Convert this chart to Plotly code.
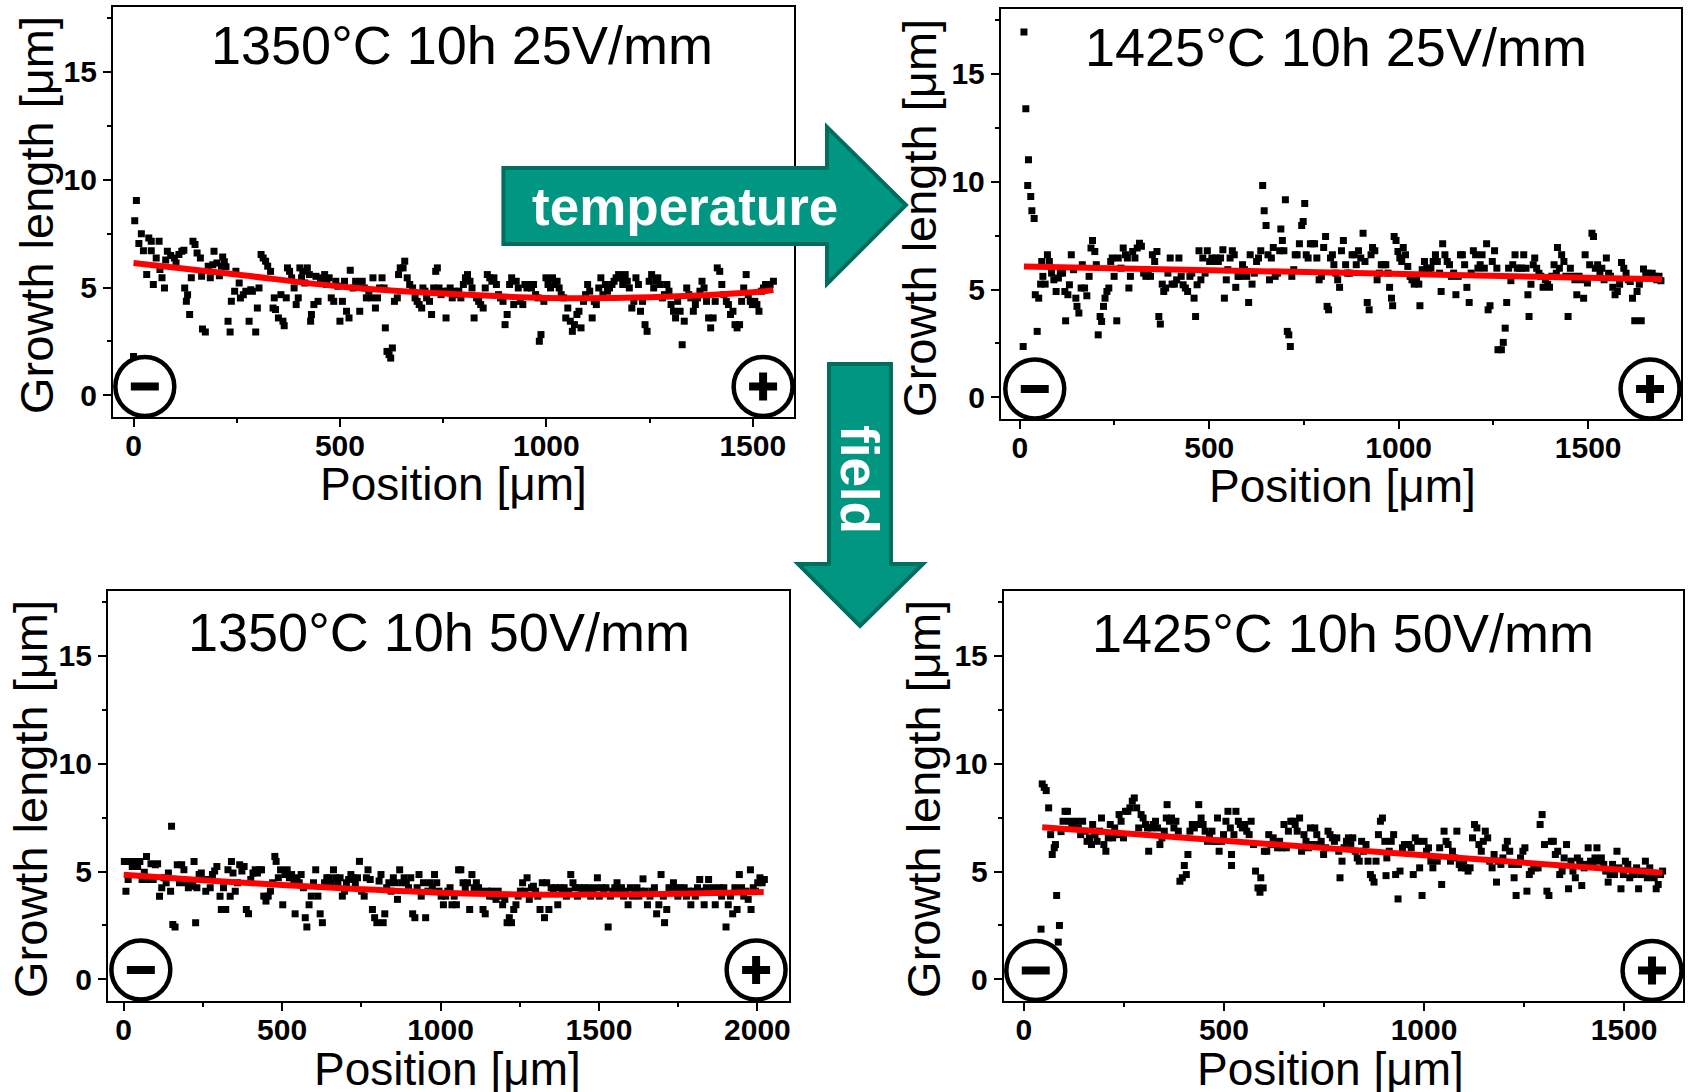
import plotly.graph_objects as go

# ---------------- data ----------------
P1_X = [0, 7, 3, 19, 13, 37, 43, 24, 43, 62, 55, 32, 48, 69, 75, 64, 82, 78, 90, 99,
        103, 110, 117, 122, 124, 131, 128, 136, 140, 144, 149, 154, 162, 167, 174, 165, 181, 186, 192, 195,
        202, 208, 213, 216, 224, 220, 229, 234, 237, 245, 248, 256, 259, 266, 272, 280, 284, 288, 296, 300,
        304, 309, 314, 320, 325, 332, 338, 344, 341, 351, 357, 365, 362, 370, 373, 378, 383, 389, 394, 399,
        403, 407, 410, 415, 421, 426, 429, 431, 437, 442, 447, 453, 458, 463, 468, 474, 479, 485, 490, 495,
        500, 506, 511, 516, 522, 525, 532, 538, 543, 548, 554, 559, 564, 570, 575, 580, 586, 591, 596, 602,
        607, 610, 614, 619, 623, 627, 632, 639, 642, 646, 653, 657, 663, 669, 676, 682, 687, 692, 698, 701,
        706, 710, 717, 722, 727, 732, 736, 740, 745, 751, 757, 761, 767, 772, 777, 783, 788, 793, 799, 804,
        809, 815, 820, 825, 831, 836, 841, 847, 852, 857, 863, 868, 873, 879, 884, 889, 895, 900, 905, 911,
        916, 921, 927, 932, 937, 943, 948, 953, 959, 964, 969, 974, 980, 983, 987, 994, 999, 1004, 1010, 1015,
        1020, 1026, 1031, 1036, 1042, 1047, 1052, 1058, 1063, 1068, 1074, 1079, 1084, 1090, 1095, 1100, 1105, 1111, 1116, 1121,
        1127, 1132, 1137, 1143, 1148, 1153, 1159, 1164, 1169, 1175, 1180, 1185, 1191, 1196, 1201, 1207, 1212, 1217, 1223, 1228,
        1233, 1239, 1244, 1249, 1255, 1260, 1265, 1270, 1276, 1281, 1286, 1292, 1297, 1302, 1308, 1313, 1318, 1324, 1329, 1334,
        1340, 1345, 1350, 1356, 1361, 1366, 1372, 1377, 1382, 1388, 1393, 1398, 1404, 1409, 1414, 1420, 1425, 1430, 1436, 1441,
        1446, 1452, 1457, 1462, 1468, 1473, 1478, 1484, 1489, 1494, 1499, 1505, 1510, 1515, 1521, 1526, 1531, 1537, 1542, 1550]
P1_Y = [1.8, 9.03, 8.1, 7.49, 7.04, 7.3, 7.15, 6.71, 6.71, 7.15, 6.37, 5.6, 5.14, 5.45, 4.98, 5.83, 6.68, 6.27, 6.48, 6.37,
        6.14, 6.53, 6.68, 6.73, 4.98, 4.67, 4.36, 3.75, 5.45, 7.15, 6.99, 6.6, 6.37, 3.08, 2.94, 5.52, 5.99, 5.45, 6.06, 6.68,
        6.14, 5.55, 5.99, 6.42, 5.96, 6.19, 3.44, 2.94, 4.36, 4.83, 5.75, 5.21, 4.52, 4.67, 4.83, 3.44, 4.9, 4.83, 2.94, 4.05,
        4.98, 6.53, 6.37, 6.22, 5.99, 5.75, 4.05, 3.98, 4.52, 3.59, 4.67, 3.23, 3.44, 4.52, 5.91, 5.75, 5.45, 4.98, 4.21, 4.52,
        5.91, 5.45, 5.75, 5.21, 5.91, 5.6, 3.44, 3.75, 4.21, 5.52, 4.36, 5.29, 5.45, 5.6, 5.14, 5.45, 4.52, 4.36, 5.29, 5.06,
        3.44, 4.36, 5.29, 3.9, 3.59, 5.8, 4.98, 5.29, 5.14, 3.9, 5.29, 4.98, 4.52, 4.83, 4.52, 5.45, 4.05, 4.52, 4.98, 5.45,
        4.98, 3.13, 2.04, 1.89, 1.73, 2.2, 4.36, 4.52, 5.6, 5.91, 5.91, 6.22, 5.45, 5.14, 4.98, 4.52, 4.36, 4.21, 4.05, 4.98,
        4.83, 4.52, 4.36, 3.75, 4.98, 5.75, 5.91, 4.98, 4.67, 4.83, 3.59, 4.83, 4.98, 4.52, 4.83, 4.67, 4.83, 4.52, 5.14, 5.45,
        5.6, 5.29, 4.98, 3.59, 4.52, 4.36, 4.21, 4.05, 4.98, 5.6, 5.45, 5.29, 5.45, 5.14, 4.67, 4.52, 4.36, 3.28, 3.75, 5.14,
        5.45, 4.21, 5.29, 4.98, 4.36, 4.21, 5.14, 4.98, 5.14, 4.98, 5.14, 4.67, 4.52, 2.51, 2.82, 4.36, 5.45, 5.14, 4.98, 5.45,
        5.14, 5.29, 4.98, 4.67, 4.52, 3.59, 4.05, 3.44, 2.97, 3.28, 3.75, 3.9, 3.13, 4.36, 4.67, 5.14, 4.83, 3.59, 4.36, 4.21,
        4.98, 5.45, 4.67, 5.14, 4.83, 4.98, 5.14, 5.29, 5.45, 5.6, 5.45, 5.14, 5.6, 5.29, 4.98, 4.05, 4.36, 5.45, 5.14, 3.9,
        4.36, 3.28, 2.97, 5.29, 5.6, 4.98, 5.29, 5.45, 5.14, 4.52, 4.67, 5.14, 4.83, 4.21, 3.9, 3.59, 4.36, 3.9, 2.35, 3.44,
        4.98, 4.67, 4.52, 3.9, 4.21, 4.52, 4.83, 5.29, 4.98, 4.36, 3.59, 3.13, 3.59, 4.36, 5.91, 5.75, 5.14, 4.67, 4.36, 4.21,
        3.75, 3.9, 3.28, 3.13, 3.28, 4.36, 4.98, 5.6, 4.67, 4.36, 4.21, 4.36, 4.21, 3.9, 4.83, 4.98, 5.14, 4.98, 5.14, 5.29]
FIT1_X = [0, 250, 500, 750, 1000, 1250, 1500, 1550]
FIT1_Y = [6.14, 5.6, 5.05, 4.72, 4.52, 4.55, 4.78, 4.88]

P2_X = [11, 16, 23, 21, 29, 32, 38, 9, 46, 41,
        50, 55, 61, 58, 67, 73, 78, 84, 90, 96,
        102, 107, 113, 119, 121, 127, 131, 136, 142, 148,
        151, 156, 162, 165, 171, 177, 183, 188, 192, 198,
        202, 207, 212, 216, 221, 225, 230, 235, 240, 244,
        249, 256, 260, 267, 273, 279, 284, 288, 292, 298,
        304, 310, 316, 321, 327, 333, 339, 345, 350, 356,
        362, 367, 371, 376, 380, 385, 391, 397, 402, 408,
        414, 420, 426, 431, 437, 443, 449, 454, 460, 464,
        468, 473, 478, 483, 489, 495, 501, 507, 512, 518,
        524, 530, 536, 540, 545, 549, 555, 561, 566, 570,
        576, 582, 588, 593, 599, 604, 608, 613, 619, 625,
        630, 636, 641, 645, 650, 655, 659, 664, 669, 674,
        680, 686, 689, 693, 697, 701, 706, 710, 714, 718,
        723, 727, 732, 738, 744, 748, 752, 756, 761, 767,
        773, 778, 784, 790, 796, 802, 807, 811, 815, 820,
        825, 829, 834, 839, 844, 849, 854, 860, 865, 871,
        877, 883, 888, 894, 900, 906, 911, 917, 922, 927,
        931, 937, 943, 949, 954, 960, 966, 972, 976, 981,
        984, 988, 993, 998, 1003, 1008, 1012, 1018, 1024, 1030,
        1035, 1041, 1047, 1053, 1056, 1062, 1068, 1074, 1079, 1085,
        1091, 1097, 1102, 1108, 1112, 1116, 1122, 1128, 1134, 1139,
        1145, 1151, 1157, 1163, 1168, 1174, 1180, 1186, 1191, 1197,
        1203, 1209, 1215, 1220, 1226, 1232, 1236, 1241, 1247, 1253,
        1259, 1262, 1271, 1276, 1281, 1285, 1290, 1296, 1301, 1307,
        1313, 1319, 1325, 1330, 1336, 1341, 1344, 1349, 1355, 1359,
        1364, 1370, 1375, 1381, 1387, 1393, 1398, 1404, 1410, 1416,
        1419, 1424, 1430, 1436, 1441, 1447, 1453, 1459, 1465, 1470,
        1476, 1482, 1488, 1492, 1498, 1504, 1510, 1514, 1519, 1525,
        1531, 1536, 1542, 1548, 1554, 1559, 1565, 1571, 1577, 1583,
        1588, 1594, 1600, 1606, 1611, 1617, 1623, 1629, 1635, 1640,
        1646, 1652, 1658, 1664, 1669, 1675, 1681, 1687, 1692]
P2_Y = [16.93, 13.38, 11.01, 9.82, 9.31, 8.65, 8.29, 2.36, 3.06, 4.76,
        4.6, 5.25, 5.61, 6.3, 5.25, 6.61, 6.3, 5.76, 5.45, 4.91,
        5.53, 5.76, 5.76, 4.91, 3.55, 4.76, 5.22, 6.61, 5.92, 4.6,
        4.22, 3.91, 5.07, 6.15, 5.07, 4.71, 5.61, 6.92, 7.27, 6.76,
        6.15, 2.9, 3.75, 3.52, 4.22, 4.6, 4.91, 5.07, 6.3, 6.46,
        5.61, 3.55, 6.46, 5.99, 6.92, 6.61, 6.46, 5.07, 5.61, 6.76,
        6.46, 6.92, 7.15, 7.0, 5.76, 5.61, 5.76, 5.61, 6.61, 6.3,
        6.76, 3.75, 3.4, 5.25, 4.91, 5.07, 5.76, 6.46, 5.25, 5.25,
        5.45, 6.46, 5.61, 5.22, 5.07, 4.91, 5.61, 5.76, 4.6, 3.75,
        5.22, 6.8, 5.45, 6.46, 5.76, 6.8, 6.3, 6.46, 6.3, 6.46,
        6.3, 6.46, 6.84, 4.6, 5.45, 5.92, 6.46, 6.8, 6.61, 5.1,
        5.61, 5.61, 6.15, 5.92, 5.61, 4.4, 6.61, 5.25, 5.76, 6.3,
        6.46, 6.8, 9.82, 8.65, 7.97, 6.61, 5.45, 6.46, 6.95, 5.61,
        5.76, 6.8, 7.8, 7.27, 6.8, 9.16, 3.06, 2.9, 2.36, 5.61,
        5.92, 6.61, 6.61, 7.12, 7.97, 8.15, 8.99, 6.61, 6.46, 7.12,
        7.12, 7.12, 6.46, 5.45, 5.61, 6.95, 7.46, 4.22, 4.06, 6.46,
        6.61, 6.15, 5.76, 5.45, 5.1, 6.8, 7.27, 6.15, 5.76, 5.76,
        6.61, 6.61, 6.15, 6.8, 6.46, 7.61, 6.3, 4.4, 4.06, 6.61,
        6.95, 6.8, 5.45, 5.76, 6.15, 6.15, 6.15, 5.76, 5.1, 4.6,
        4.25, 7.46, 7.27, 6.76, 6.46, 6.3, 6.95, 6.61, 6.07, 5.61,
        5.45, 5.25, 5.45, 5.25, 4.25, 5.92, 6.3, 5.99, 5.76, 5.99,
        6.3, 6.61, 6.3, 5.76, 4.91, 7.12, 6.61, 6.3, 6.15, 5.61,
        5.76, 4.76, 5.61, 6.61, 6.61, 6.15, 5.1, 4.4, 5.76, 6.8,
        6.61, 5.99, 6.15, 6.61, 5.99, 7.12, 4.06, 4.25, 6.3, 6.8,
        5.99, 2.21, 2.21, 2.55, 3.21, 4.4, 5.99, 5.41, 6.15, 6.61,
        5.99, 5.99, 5.99, 6.61, 5.99, 4.76, 3.75, 5.25, 6.15, 6.46,
        5.99, 5.76, 5.61, 5.1, 5.45, 5.25, 5.1, 5.61, 6.15, 5.76,
        6.95, 5.99, 6.61, 6.3, 5.61, 3.75, 5.99, 5.61, 5.45, 4.76,
        5.61, 5.45, 4.6, 6.61, 5.3, 6.15, 7.61, 7.46, 5.99, 6.15,
        5.76, 5.99, 5.45, 6.46, 5.76, 5.61, 5.1, 4.76, 4.91, 5.25,
        6.25, 5.99, 5.76, 5.45, 5.37, 4.6, 3.55, 4.91, 5.25, 3.55,
        5.95, 5.76, 5.76, 5.61, 5.76, 5.61, 5.45, 5.61, 5.41]
FIT2_X = [11, 500, 1000, 1500, 1695]
FIT2_Y = [6.07, 5.9, 5.72, 5.55, 5.48]

P3_X = [2, 7, 14, 20, 27, 37, 44, 51, 58, 65,
        72, 79, 86, 93, 100, 107, 113, 120, 127, 134,
        141, 148, 151, 155, 162, 169, 176, 183, 190, 197,
        204, 211, 218, 222, 227, 231, 238, 245, 252, 259,
        266, 273, 280, 287, 294, 304, 308, 315, 322, 329,
        336, 340, 345, 352, 359, 366, 373, 380, 387, 394,
        401, 408, 415, 422, 429, 435, 442, 449, 456, 463,
        470, 477, 481, 488, 495, 502, 509, 516, 523, 530,
        537, 541, 547, 554, 560, 567, 573, 578, 585, 592,
        599, 606, 613, 620, 627, 634, 641, 648, 655, 662,
        669, 676, 683, 690, 697, 703, 710, 717, 724, 731,
        738, 744, 751, 759, 766, 771, 778, 785, 792, 799,
        806, 812, 819, 824, 830, 837, 844, 851, 857, 864,
        871, 878, 885, 892, 899, 906, 912, 919, 926, 932,
        939, 946, 953, 960, 967, 974, 981, 988, 995, 1002,
        1009, 1016, 1023, 1030, 1036, 1043, 1050, 1057, 1064, 1071,
        1078, 1085, 1092, 1099, 1106, 1113, 1120, 1127, 1134, 1141,
        1148, 1155, 1161, 1168, 1175, 1182, 1189, 1196, 1203, 1210,
        1217, 1224, 1231, 1238, 1245, 1252, 1259, 1266, 1273, 1280,
        1287, 1293, 1300, 1307, 1314, 1321, 1328, 1335, 1342, 1349,
        1356, 1363, 1370, 1377, 1384, 1390, 1397, 1404, 1411, 1418,
        1425, 1432, 1439, 1446, 1453, 1460, 1467, 1474, 1481, 1488,
        1495, 1501, 1508, 1515, 1522, 1529, 1536, 1543, 1550, 1557,
        1564, 1571, 1578, 1585, 1592, 1599, 1606, 1613, 1620, 1626,
        1633, 1639, 1646, 1653, 1661, 1668, 1675, 1682, 1689, 1696,
        1703, 1707, 1714, 1721, 1728, 1735, 1742, 1749, 1756, 1762,
        1769, 1776, 1783, 1790, 1797, 1804, 1811, 1818, 1825, 1832,
        1839, 1846, 1853, 1860, 1867, 1873, 1880, 1887, 1894, 1901,
        1908, 1915, 1922, 1929, 1936, 1943, 1950, 1957, 1964, 1971,
        1978, 1980, 1987, 1994, 2001, 2008, 2015, 2022]
P3_Y = [5.47, 4.09, 4.63, 5.47, 5.23, 5.47, 5.23, 5.47, 4.63, 4.97,
        5.7, 4.63, 5.36, 4.63, 5.31, 5.36, 3.86, 4.25, 4.71, 4.48,
        4.93, 4.09, 7.1, 2.55, 2.43, 5.31, 4.48, 5.31, 5.08, 4.48,
        4.25, 4.32, 4.48, 5.47, 2.63, 4.25, 4.86, 4.93, 4.63, 4.09,
        4.63, 4.25, 4.86, 5.02, 5.23, 3.86, 3.24, 4.25, 3.24, 5.08,
        3.86, 5.47, 4.93, 4.09, 4.48, 5.31, 5.02, 5.23, 3.24, 3.04,
        4.63, 4.93, 5.08, 4.93, 5.08, 5.08, 3.86, 3.63, 3.86, 4.09,
        4.48, 5.7, 5.47, 4.71, 5.08, 3.46, 4.86, 5.08, 4.71, 4.86,
        4.63, 3.04, 4.71, 4.48, 4.86, 4.25, 2.86, 2.43, 3.46, 3.86,
        4.48, 5.08, 3.86, 3.04, 2.63, 4.48, 4.71, 4.71, 4.48, 5.08,
        4.71, 4.48, 4.71, 3.86, 4.09, 4.48, 4.63, 4.86, 4.71, 4.48,
        4.71, 5.47, 4.09, 3.86, 4.71, 5.08, 4.63, 3.24, 2.86, 2.63,
        4.56, 4.86, 2.63, 3.04, 4.25, 4.48, 4.09, 4.71, 4.48, 3.71,
        5.08, 4.48, 4.71, 4.48, 4.25, 4.71, 3.04, 2.86, 4.25, 4.86,
        3.86, 4.48, 2.86, 4.09, 4.48, 4.25, 4.86, 4.48, 4.09, 3.86,
        3.46, 3.86, 4.09, 4.25, 3.46, 3.86, 3.46, 5.08, 5.08, 4.48,
        4.25, 4.48, 3.24, 4.86, 4.25, 4.48, 4.25, 4.09, 3.24, 3.04,
        4.09, 3.86, 4.09, 3.86, 3.71, 4.09, 3.86, 3.46, 3.71, 2.63,
        2.86, 2.63, 3.24, 3.46, 3.86, 4.09, 4.48, 4.09, 4.71, 3.71,
        4.25, 4.32, 4.09, 3.86, 3.24, 4.48, 2.86, 4.48, 3.24, 4.25,
        4.09, 4.25, 3.46, 4.25, 4.09, 4.25, 3.86, 4.09, 4.86, 4.48,
        4.25, 3.86, 4.25, 4.09, 4.25, 4.09, 4.25, 3.86, 4.09, 4.25,
        4.71, 3.86, 4.25, 4.09, 4.25, 2.43, 3.86, 4.09, 4.25, 4.48,
        4.09, 4.25, 3.86, 4.09, 3.46, 4.25, 3.86, 4.09, 4.25, 3.86,
        4.09, 4.66, 4.09, 3.46, 3.86, 4.09, 4.25, 3.04, 3.46, 4.86,
        3.86, 2.63, 3.24, 4.25, 4.09, 4.48, 4.25, 3.86, 4.25, 4.09,
        4.25, 3.86, 4.09, 3.46, 4.09, 3.86, 4.25, 4.63, 4.09, 3.46,
        4.25, 4.63, 4.09, 4.25, 3.46, 4.09, 4.25, 3.86, 4.25, 2.43,
        3.46, 3.86, 3.04, 4.25, 3.24, 4.86, 4.25, 3.86, 4.09, 3.71,
        5.08, 3.24, 4.25, 4.09, 4.48, 4.71, 4.48, 4.63]
FIT3_X = [0, 250, 500, 750, 1000, 1250, 1500, 1750, 2020]
FIT3_Y = [4.85, 4.6, 4.38, 4.18, 4.02, 3.94, 3.93, 3.97, 4.05]

P4_X = [46, 51, 56, 62, 43, 67, 71, 76, 79, 82,
        89, 86, 93, 98, 103, 109, 114, 120, 125, 131,
        136, 142, 147, 153, 158, 164, 169, 172, 178, 183,
        189, 194, 200, 205, 211, 216, 222, 227, 233, 238,
        243, 249, 254, 260, 265, 271, 276, 282, 287, 293,
        298, 304, 309, 312, 318, 323, 329, 334, 340, 345,
        351, 356, 358, 364, 369, 375, 380, 386, 390, 396,
        401, 406, 410, 415, 421, 426, 432, 437, 443, 448,
        453, 459, 464, 470, 475, 481, 484, 488, 494, 499,
        505, 510, 516, 519, 519, 525, 530, 536, 541, 546,
        552, 557, 563, 568, 574, 579, 585, 590, 592, 598,
        601, 607, 612, 618, 623, 628, 634, 639, 645, 650,
        656, 661, 667, 672, 678, 683, 689, 694, 700, 705,
        711, 716, 721, 727, 732, 738, 743, 749, 754, 760,
        765, 771, 776, 782, 787, 790, 795, 800, 806, 811,
        817, 822, 828, 833, 838, 844, 849, 855, 860, 866,
        871, 875, 880, 886, 891, 896, 902, 905, 907, 913,
        918, 924, 929, 935, 940, 946, 951, 957, 962, 968,
        973, 978, 984, 989, 995, 1000, 1006, 1011, 1017, 1022,
        1028, 1033, 1039, 1044, 1050, 1055, 1060, 1066, 1071, 1077,
        1082, 1088, 1093, 1099, 1104, 1110, 1115, 1121, 1126, 1132,
        1137, 1143, 1148, 1153, 1159, 1164, 1170, 1175, 1181, 1186,
        1192, 1197, 1203, 1208, 1214, 1219, 1225, 1230, 1236, 1241,
        1247, 1252, 1257, 1263, 1268, 1274, 1279, 1285, 1290, 1295,
        1301, 1307, 1312, 1318, 1323, 1328, 1334, 1339, 1345, 1350,
        1356, 1361, 1367, 1372, 1378, 1383, 1389, 1394, 1400, 1405,
        1410, 1416, 1421, 1427, 1432, 1438, 1443, 1449, 1454, 1460,
        1465, 1471, 1476, 1482, 1487, 1492, 1498, 1503, 1509, 1514,
        1520, 1525, 1531, 1536, 1542, 1547, 1553, 1558, 1564, 1569,
        1575, 1580, 1585, 1591, 1596]
P4_Y = [9.06, 8.9, 8.75, 7.95, 2.33, 6.71, 5.79, 6.1, 6.25, 3.89,
        2.5, 1.73, 6.85, 7.33, 7.79, 7.79, 7.33, 7.18, 7.02, 7.33,
        7.02, 6.71, 7.33, 6.87, 6.4, 6.56, 6.25, 7.18, 6.71, 6.4,
        6.87, 7.48, 6.25, 5.94, 6.56, 7.18, 6.56, 7.02, 6.71, 7.64,
        7.33, 6.56, 7.79, 7.79, 7.95, 8.26, 8.41, 7.95, 7.02, 7.64,
        7.48, 7.18, 7.02, 5.94, 7.02, 7.18, 7.33, 7.02, 6.25, 6.56,
        6.87, 7.48, 8.1, 7.33, 7.48, 7.02, 7.33, 6.87, 4.55, 4.71,
        5.28, 4.86, 5.79, 6.87, 7.18, 7.02, 7.18, 8.1, 7.48, 7.18,
        6.87, 6.4, 6.71, 6.87, 6.4, 6.4, 7.48, 5.94, 6.4, 6.71,
        7.33, 7.79, 7.02, 5.79, 5.28, 6.71, 7.79, 7.33, 7.18, 7.02,
        7.18, 6.87, 6.71, 7.33, 6.25, 5.02, 4.24, 4.04, 4.71, 4.24,
        5.94, 5.94, 6.71, 6.25, 6.56, 6.25, 6.1, 6.4, 6.1, 7.18,
        6.1, 6.87, 7.33, 7.33, 7.18, 6.87, 7.48, 5.94, 6.71, 6.4,
        6.1, 7.02, 6.25, 7.02, 6.71, 6.25, 6.4, 5.79, 6.1, 6.87,
        6.71, 6.56, 6.4, 6.56, 5.94, 4.71, 5.48, 6.1, 6.4, 6.56,
        6.25, 6.56, 5.94, 5.63, 5.48, 6.4, 5.94, 6.25, 5.48, 4.86,
        4.71, 4.51, 5.48, 6.71, 7.33, 7.48, 6.4, 4.81, 5.63, 5.94,
        6.4, 6.71, 4.86, 3.73, 5.02, 6.1, 6.25, 6.25, 6.25, 6.1,
        4.86, 6.56, 6.4, 5.17, 3.89, 6.4, 5.94, 6.1, 5.48, 5.17,
        5.63, 5.48, 6.1, 4.4, 6.87, 6.4, 6.25, 5.48, 5.94, 5.63,
        6.87, 5.33, 5.17, 5.48, 5.17, 5.02, 5.17, 6.56, 7.18, 7.02,
        6.25, 5.94, 6.4, 6.87, 6.56, 5.48, 5.17, 5.79, 4.51, 5.48,
        5.33, 5.63, 6.1, 6.4, 5.94, 5.33, 4.71, 3.89, 5.33, 5.63,
        5.94, 6.1, 4.09, 4.86, 5.02, 5.33, 5.17, 5.17, 7.18, 7.64,
        6.25, 4.09, 3.89, 6.4, 6.4, 5.79, 5.94, 4.86, 5.02, 5.63,
        6.25, 4.2, 5.48, 5.02, 4.71, 5.63, 5.48, 4.35, 5.17, 5.33,
        6.1, 5.48, 5.33, 5.63, 6.1, 5.48, 5.63, 5.33, 5.02, 4.51,
        4.86, 5.33, 4.86, 5.94, 5.17, 4.2, 4.86, 5.48, 5.33, 4.71,
        5.02, 4.86, 5.17, 4.2, 4.86, 5.02, 5.48, 4.71, 5.17, 4.86,
        4.71, 4.2, 4.4, 4.86, 5.02]
FIT4_X = [46, 500, 1000, 1596]
FIT4_Y = [7.05, 6.44, 5.76, 4.94]

TITLES = ["1350°C 10h 25V/mm", "1425°C 10h 25V/mm", "1350°C 10h 50V/mm", "1425°C 10h 50V/mm"]
X_LABEL = "Position [μm]"
Y_LABEL = "Growth length [μm]"
X_RANGES = [[-50, 1600], [-50, 1745], [-50, 2100], [-50, 1647]]
Y_RANGE = [-1, 18]

# ---------------- layout helpers (pixel -> paper) ----------------
W, H = 1688, 1092
def PX(x): return x / W
def PY(y): return 1 - y / H

BOXES = [(113, 7, 795, 417), (1002, 9, 1683, 419), (108, 591, 790, 1001), (1005, 591, 1685, 1001)]
TITLE_POS = [(463, 45), (1338, 47), (440, 632), (1345, 633)]
XLAB_POS = [(454, 484), (1344, 486), (448, 1069), (1332, 1069)]
YLAB_POS = [(37, 215), (921, 218), (30, 799), (924, 799)]
MINUS_POS = [(145, 386.5), (1036, 389), (141, 970), (1037, 970.5)]
PLUS_POS = [(764, 386.5), (1652, 389), (757, 970), (1654, 970.5)]

data = [(P1_X, P1_Y, FIT1_X, FIT1_Y, "spline"), (P2_X, P2_Y, FIT2_X, FIT2_Y, "linear"),
        (P3_X, P3_Y, FIT3_X, FIT3_Y, "spline"), (P4_X, P4_Y, FIT4_X, FIT4_Y, "linear")]

fig = go.Figure()
FONT = "Liberation Sans"
tickfont = dict(family=FONT, size=30, color="black", weight="bold")

layout = dict(width=W, height=H, margin=dict(l=0, r=0, t=0, b=0), paper_bgcolor="white",
              plot_bgcolor="white", showlegend=False)
annotations = []
shapes = []

for i, (xs, ys, fx, fy, shp) in enumerate(data):
    n = i + 1
    xa = "x" if n == 1 else f"x{n}"
    ya = "y" if n == 1 else f"y{n}"
    fig.add_trace(go.Scatter(x=xs, y=ys, mode="markers", xaxis=xa, yaxis=ya,
                             marker=dict(symbol="square", size=7, color="black")))
    fig.add_trace(go.Scatter(x=fx, y=fy, mode="lines", xaxis=xa, yaxis=ya,
                             line=dict(color="#ff0000", width=6, shape=shp)))
    x0, y0, x1, y1 = BOXES[i]
    common = dict(showline=True, linecolor="black", linewidth=2, mirror=True, ticks="outside",
                  ticklen=8, tickwidth=2, tickcolor="black", showgrid=False, zeroline=False,
                  tickfont=tickfont, fixedrange=True)
    layout["xaxis" if n == 1 else f"xaxis{n}"] = dict(
        common, domain=[PX(x0), PX(x1)], range=X_RANGES[i], anchor=ya, tick0=0, dtick=500,
        ticklabelstandoff=-7,
        minor=dict(dtick=250, ticks="outside", ticklen=4, tickwidth=2, tickcolor="black", showgrid=False))
    layout["yaxis" if n == 1 else f"yaxis{n}"] = dict(
        common, domain=[PY(y1), PY(y0)], range=Y_RANGE, anchor=xa, tick0=0, dtick=5,
        minor=dict(dtick=2.5, ticks="outside", ticklen=4, tickwidth=2, tickcolor="black", showgrid=False))

    tx, ty = TITLE_POS[i]
    annotations.append(dict(text=TITLES[i], x=PX(tx), y=PY(ty), xref="paper", yref="paper",
                            showarrow=False, xanchor="center", yanchor="middle",
                            font=dict(family=FONT, size=54, color="black")))
    lx, ly = XLAB_POS[i]
    annotations.append(dict(text=X_LABEL, x=PX(lx), y=PY(ly), xref="paper", yref="paper",
                            showarrow=False, xanchor="center", yanchor="middle",
                            font=dict(family=FONT, size=46, color="black")))
    lx, ly = YLAB_POS[i]
    annotations.append(dict(text=Y_LABEL, x=PX(lx), y=PY(ly), xref="paper", yref="paper",
                            showarrow=False, xanchor="center", yanchor="middle", textangle=-90,
                            font=dict(family=FONT, size=47, color="black")))
    # electrode symbols
    R = 29.5
    for (cx, cy), sign in ((MINUS_POS[i], "-"), (PLUS_POS[i], "+")):
        shapes.append(dict(type="circle", xref="paper", yref="paper", x0=PX(cx - R), x1=PX(cx + R),
                           y0=PY(cy + R), y1=PY(cy - R), line=dict(color="black", width=4.5),
                           fillcolor="rgba(0,0,0,0)", layer="above"))
        shapes.append(dict(type="rect", xref="paper", yref="paper", x0=PX(cx - 14), x1=PX(cx + 14),
                           y0=PY(cy + 4), y1=PY(cy - 4), line=dict(width=0), fillcolor="black",
                           layer="above"))
        if sign == "+":
            shapes.append(dict(type="rect", xref="paper", yref="paper", x0=PX(cx - 4), x1=PX(cx + 4),
                               y0=PY(cy + 14), y1=PY(cy - 14), line=dict(width=0), fillcolor="black",
                               layer="above"))

def path(points):
    return "M " + " L ".join(f"{PX(x):.5f},{PY(y):.5f}" for x, y in points) + " Z"

TEAL = "#009682"
TEAL_DARK = "#006e5e"
temp_arrow = [(504, 168), (828, 168), (828, 127), (907, 205), (828, 284), (828, 244), (504, 244)]
field_arrow = [(830, 364), (892, 364), (892, 564), (924, 564), (861, 626), (799, 564), (830, 564)]
for pts in (temp_arrow, field_arrow):
    shapes.append(dict(type="path", xref="paper", yref="paper", path=path(pts), fillcolor=TEAL,
                       line=dict(color=TEAL_DARK, width=4), layer="above"))

annotations.append(dict(text="<b>temperature</b>", x=PX(686), y=PY(206), xref="paper", yref="paper",
                        showarrow=False, xanchor="center", yanchor="middle",
                        font=dict(family=FONT, size=53, color="white")))
annotations.append(dict(text="<b>field</b>", x=PX(861), y=PY(480), xref="paper", yref="paper",
                        showarrow=False, xanchor="center", yanchor="middle", textangle=90,
                        font=dict(family=FONT, size=53, color="white")))

layout["annotations"] = annotations
layout["shapes"] = shapes
fig.update_layout(**layout)

fig.write_html("out.html", config={"displayModeBar": False},
               post_script="document.body.style.margin='0';document.body.style.overflow='hidden';")
